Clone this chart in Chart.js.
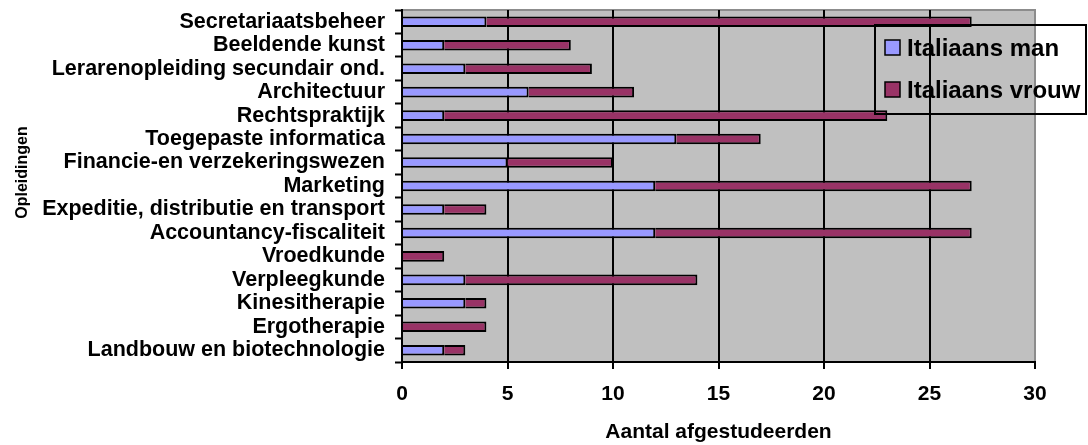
<!DOCTYPE html>
<html>
<head>
<meta charset="utf-8">
<script src="https://cdn.jsdelivr.net/npm/chart.js@4/dist/chart.umd.min.js"></script>
<style>
  html, body { margin: 0; padding: 0; background: #ffffff; }
  #wrap { width: 1088px; height: 445px; position: relative; }
</style>
</head>
<body>
<div id="wrap"><canvas id="c" width="1088" height="445"></canvas></div>
<script>
// Opleidingen (top to bottom)
const opleidingen = [
  "Secretariaatsbeheer",
  "Beeldende kunst",
  "Lerarenopleiding secundair ond.",
  "Architectuur",
  "Rechtspraktijk",
  "Toegepaste informatica",
  "Financie-en verzekeringswezen",
  "Marketing",
  "Expeditie, distributie en transport",
  "Accountancy-fiscaliteit",
  "Vroedkunde",
  "Verpleegkunde",
  "Kinesitherapie",
  "Ergotherapie",
  "Landbouw en biotechnologie"
];

// Aantal afgestudeerden per opleiding
const italiaansMan   = [4, 2, 3, 6, 2, 13, 5, 12, 2, 12, 0, 3, 3, 0, 2];
const italiaansVrouw = [23, 6, 6, 5, 21, 4, 5, 15, 2, 15, 2, 11, 1, 4, 1];

// X-axis ticks
const xTicks = [0, 5, 10, 15, 20, 25, 30];

const seriesNames = ["Italiaans man", "Italiaans vrouw"];
const xTitle = "Aantal afgestudeerden";
const yTitle = "Opleidingen";

const FONT = "'Liberation Sans', Arial, Helvetica, sans-serif";
const xMin = xTicks[0], xMax = xTicks[xTicks.length - 1];

// Grey plot background with a grey frame on top and right
const plotBackground = {
  id: 'plotBackground',
  beforeDraw(chart) {
    const { ctx, chartArea: a } = chart;
    ctx.save();
    ctx.fillStyle = '#c0c0c0';
    ctx.fillRect(a.left, a.top, a.right - a.left, a.bottom - a.top);
    ctx.strokeStyle = '#8c8c8c';
    ctx.lineWidth = 2;
    ctx.beginPath();
    ctx.moveTo(a.left, a.top);
    ctx.lineTo(a.right, a.top);
    ctx.lineTo(a.right, a.bottom);
    ctx.stroke();
    ctx.restore();
  }
};

// Vertical axis title and boxed legend
const extras = {
  id: 'extras',
  afterDraw(chart) {
    const { ctx } = chart;
    ctx.save();
    // y title
    ctx.fillStyle = '#000';
    ctx.font = 'bold 16px ' + FONT;
    ctx.textAlign = 'center';
    ctx.textBaseline = 'alphabetic';
    ctx.translate(27, 172.5);
    ctx.rotate(-Math.PI / 2);
    ctx.fillText(yTitle, 0, 0);
    ctx.restore();

    // legend
    ctx.save();
    ctx.strokeStyle = '#000';
    ctx.lineWidth = 2;
    ctx.strokeRect(875, 25, 211, 89);
    ctx.font = 'bold 24px ' + FONT;
    ctx.textAlign = 'left';
    ctx.textBaseline = 'alphabetic';
    chart.data.datasets.forEach((ds, i) => {
      const y = 40 + i * 42;
      ctx.fillStyle = ds.backgroundColor;
      ctx.fillRect(885, y, 15, 15);
      ctx.lineWidth = 1.5;
      ctx.strokeRect(885, y, 15, 15);
      ctx.fillStyle = '#000';
      ctx.fillText(ds.label, 907, y + 15.5);
    });
    ctx.restore();
  }
};

new Chart(document.getElementById('c'), {
  type: 'bar',
  data: {
    labels: opleidingen,
    datasets: [
      {
        label: seriesNames[0],
        data: italiaansMan,
        backgroundColor: '#9999ff',
        borderColor: '#000000',
        borderWidth: 2,
        categoryPercentage: 1,
        barPercentage: 0.45
      },
      {
        label: seriesNames[1],
        data: italiaansVrouw,
        backgroundColor: '#993366',
        borderColor: '#000000',
        borderWidth: 2,
        categoryPercentage: 1,
        barPercentage: 0.45
      }
    ]
  },
  options: {
    indexAxis: 'y',
    responsive: false,
    animation: false,
    devicePixelRatio: 1,
    layout: { padding: { top: 10, right: 53, bottom: 0, left: 0 } },
    plugins: {
      legend: { display: false },
      tooltip: { enabled: false }
    },
    scales: {
      x: {
        stacked: true,
        min: xMin,
        max: xMax,
        afterBuildTicks(scale) {
          scale.ticks = xTicks.map(v => ({ value: v }));
        },
        afterFit(scale) { scale.height = 83; },
        grid: {
          color: ctx => (ctx.tick && (ctx.tick.value === xMin || ctx.tick.value === xMax)) ? 'rgba(0,0,0,0)' : '#000000',
          lineWidth: 2,
          tickColor: '#000000',
          tickLength: 7,
          drawTicks: true
        },
        border: { display: true, color: '#000000', width: 2 },
        ticks: {
          color: '#000000',
          padding: 13,
          maxRotation: 0,
          font: { family: FONT, size: 21, weight: 'bold' }
        },
        title: {
          display: true,
          text: xTitle,
          color: '#000000',
          padding: { top: 0, bottom: 0 },
          font: { family: FONT, size: 21, weight: 'bold' }
        }
      },
      y: {
        stacked: true,
        afterFit(scale) {
          scale.width = 402;
          scale.paddingTop = 0;
          scale.paddingBottom = 0;
        },
        grid: {
          offset: true,
          drawOnChartArea: false,
          drawTicks: true,
          tickLength: 7,
          tickColor: '#000000',
          tickWidth: 2
        },
        border: { display: true, color: '#000000', width: 2 },
        ticks: {
          color: '#000000',
          padding: 10,
          autoSkip: false,
          font: { family: FONT, size: 21.5, weight: 'bold' }
        }
      }
    }
  },
  plugins: [plotBackground, extras]
});
</script>
</body>
</html>
